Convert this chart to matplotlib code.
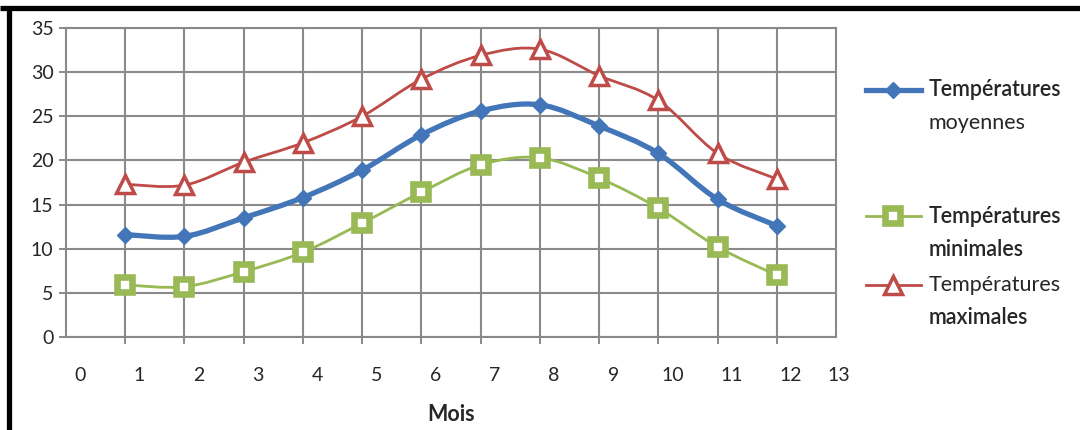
import numpy as np
import matplotlib
matplotlib.use("Agg")
import matplotlib.pyplot as plt
from matplotlib.path import Path
from matplotlib.patches import PathPatch
from matplotlib.lines import Line2D
import matplotlib.transforms as mtransforms

plt.rcParams["font.family"] = ["Lato", "DejaVu Sans"]

W, H = 1080, 430

# Températures mensuelles (°C)
mois = [1, 2, 3, 4, 5, 6, 7, 8, 9, 10, 11, 12]
t_moy = [11.6, 11.4, 13.5, 15.8, 18.9, 22.9, 25.6, 26.3, 23.9, 20.8, 15.6, 12.6]
t_min = [5.9, 5.7, 7.4, 9.6, 12.9, 16.4, 19.5, 20.3, 18.0, 14.6, 10.2, 7.0]
t_max = [17.3, 17.2, 19.8, 22.0, 25.0, 29.2, 31.9, 32.6, 29.6, 26.8, 20.8, 17.9]

x_labels = [str(i) for i in range(14)]
y_ticks = [0, 5, 10, 15, 20, 25, 30, 35]

BLUE = "#4276B8"
GREEN = "#98B954"
RED = "#BE4B48"
GRID = "#8A8A8A"
TXT = "#262626"


def smooth_path(x, y):
    # courbe lissée type Catmull-Rom passant par les points
    pts = np.column_stack([x, y]).astype(float)
    n = len(pts)
    verts = [pts[0]]
    codes = [Path.MOVETO]
    for i in range(n - 1):
        p0 = pts[max(i - 1, 0)]
        p1 = pts[i]
        p2 = pts[i + 1]
        p3 = pts[min(i + 2, n - 1)]
        verts += [p1 + (p2 - p0) / 6, p2 - (p3 - p1) / 6, p2]
        codes += [Path.CURVE4] * 3
    return Path(verts, codes)


# marqueur carré avec les bords qui dépassent un peu
e = 0.72
HASH = Path(
    [(-e, -0.5), (e, -0.5), (-e, 0.5), (e, 0.5),
     (-0.5, -e), (-0.5, e), (0.5, -e), (0.5, e)],
    [Path.MOVETO, Path.LINETO] * 4,
)

fig = plt.figure(figsize=(W / 100, H / 100), dpi=100)
ax = fig.add_axes([66 / W, 1 - 337 / H, (836 - 66) / W, (337 - 28) / H])

ax.set_xlim(0, 13)
ax.set_ylim(0, 35)
ax.set_xticks(mois)
ax.set_xticklabels([])
ax.set_yticks(y_ticks)
ax.set_yticklabels([str(v) for v in y_ticks], fontsize=14, color=TXT)
ax.tick_params(axis="both", length=5, width=1.4, color=GRID)
ax.tick_params(axis="y", pad=4)
ax.grid(True, color=GRID, linewidth=1.5)
ax.set_axisbelow(True)
for s in ax.spines.values():
    s.set_color(GRID)
    s.set_linewidth(1.5)

# étiquettes de l'axe des x, légèrement décalées vers la droite
lbl_trans = mtransforms.blended_transform_factory(ax.transData, ax.transAxes)
for i, lab in enumerate(x_labels):
    xpos = i + 0.24 if i < 13 else 13.05
    ax.text(xpos, -0.125, lab, transform=lbl_trans, ha="center", va="center",
            fontsize=14, color=TXT)
ax.text(0.5, -0.25, "Mois", transform=ax.transAxes, ha="center", va="center",
        fontsize=15.5, fontweight="bold", color=TXT)

# courbes
ax.add_patch(PathPatch(smooth_path(mois, t_max), fill=False, edgecolor=RED,
                       lw=2.0, capstyle="round", joinstyle="round", zorder=3))
ax.add_patch(PathPatch(smooth_path(mois, t_moy), fill=False, edgecolor=BLUE,
                       lw=3.8, capstyle="round", joinstyle="round", zorder=3))
ax.add_patch(PathPatch(smooth_path(mois, t_min), fill=False, edgecolor=GREEN,
                       lw=2.0, capstyle="round", joinstyle="round", zorder=3))

ax.plot(mois, t_max, ls="none", marker="^", ms=13, mfc="white", mec=RED,
        mew=2.5, zorder=4, clip_on=False)
ax.plot(mois, t_moy, ls="none", marker="D", ms=8.5, mfc=BLUE, mec=BLUE,
        mew=1, zorder=4, clip_on=False)
ax.plot(mois, t_min, ls="none", marker="s", ms=13, mfc="white", mec=GREEN,
        mew=2.6, zorder=4, clip_on=False)
ax.plot(mois, t_min, ls="none", marker=HASH, ms=13, mfc="none", mec=GREEN,
        mew=2.6, zorder=4, clip_on=False)


# légende dessinée à la main
def fx(px):
    return px / W


def fy(py):
    return 1 - py / H


entries = [
    (90, BLUE, 3.8, dict(marker="D", ms=8.5, mfc=BLUE, mec=BLUE, mew=1),
     ["Températures", "moyennes"], ["semibold", "normal"]),
    (216, GREEN, 2.0, dict(marker="s", ms=13, mfc="white", mec=GREEN, mew=2.6),
     ["Températures", "minimales"], ["semibold", "semibold"]),
    (285, RED, 2.0, dict(marker="^", ms=13, mfc="white", mec=RED, mew=2.5),
     ["Températures", "maximales"], ["normal", "semibold"]),
]
for ypx, col, lw, mk, lines, weights in entries:
    fig.add_artist(Line2D([fx(866), fx(921)], [fy(ypx), fy(ypx)],
                          transform=fig.transFigure, color=col, lw=lw))
    fig.add_artist(Line2D([fx(893)], [fy(ypx)], transform=fig.transFigure,
                          ls="none", **mk))
    if col == GREEN:
        fig.add_artist(Line2D([fx(893)], [fy(ypx)], transform=fig.transFigure,
                              ls="none", marker=HASH, ms=13, mfc="none",
                              mec=GREEN, mew=2.6))
    for k, (txt, wt) in enumerate(zip(lines, weights)):
        fig.text(fx(929), fy(ypx + 33 * k), txt, ha="left", va="center",
                 fontsize=15.5, fontweight=wt, color=TXT)

# cadre noir en haut et à gauche
fig.add_artist(Line2D([0, 1], [fy(7.5), fy(7.5)], transform=fig.transFigure,
                      color="black", lw=3.8, solid_capstyle="butt"))
fig.add_artist(Line2D([fx(8.5), fx(8.5)], [0, fy(5.5)], transform=fig.transFigure,
                      color="black", lw=3.8, solid_capstyle="butt"))

fig.savefig("out.png", dpi=100, facecolor="white")
